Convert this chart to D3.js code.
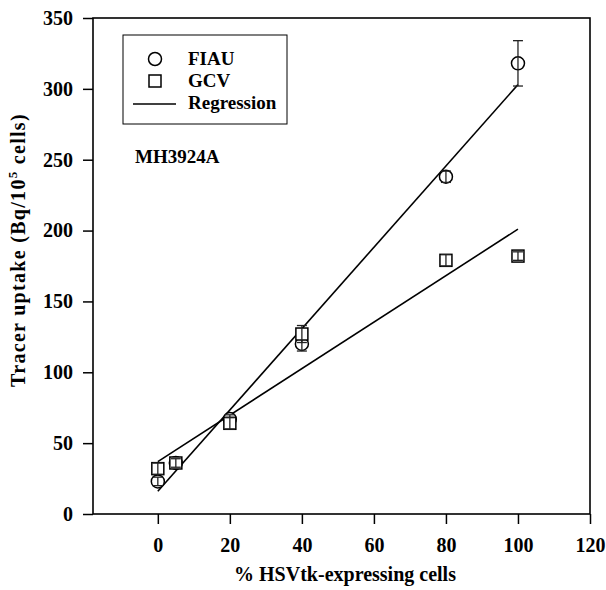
<!DOCTYPE html>
<html>
<head>
<meta charset="utf-8">
<script src="https://cdn.jsdelivr.net/npm/d3@7"></script>
<style>
  body { margin: 0; background: #fff; }
  text { font-family: "Liberation Serif", "Times New Roman", serif; font-weight: bold; }
</style>
</head>
<body>
<script>
// data
var xValues = [0, 5, 20, 40, 80, 100];
var fiau = [23, 36, 67, 120, 238, 318];
var fiauErr = [3, 3, 3, 5, 4, 16];
var gcv = [32, 36, 64, 127, 179, 182];
var gcvErr = [4, 3, 4, 6, 4, 3];
// regression end points (x, y)
var fiauFit = [[0, 16], [100, 303]];
var gcvFit = [[0, 37], [100, 201]];
var xTicks = [0, 20, 40, 60, 80, 100, 120];
var yTicks = [0, 50, 100, 150, 200, 250, 300, 350];

var margin = {top: 18, right: 16, bottom: 76, left: 93},
    width = 606 - margin.left - margin.right,
    height = 590 - margin.top - margin.bottom;

var svg = d3.select("body").append("svg")
    .attr("width", 606)
    .attr("height", 590)
    .append("g")
    .attr("transform", "translate(" + margin.left + "," + margin.top + ")");

var xScale = d3.scaleLinear().domain([-18, 120]).range([0, width]);
var yScale = d3.scaleLinear().domain([0, 350]).range([height, 0]);

// axes, outward ticks
var xAxis = d3.axisBottom(xScale).tickValues(xTicks).tickSize(10).tickPadding(14);
var yAxis = d3.axisLeft(yScale).tickValues(yTicks).tickSize(10).tickPadding(10);

var gx = svg.append("g")
    .attr("transform", "translate(0," + height + ")")
    .call(xAxis);
var gy = svg.append("g").call(yAxis);

[gx, gy].forEach(function(g) {
    g.select(".domain").remove();
    g.selectAll("line").attr("stroke", "#000").attr("stroke-width", 1.5);
    g.selectAll("text").attr("font-size", "20px").attr("fill", "#000");
});

// frame
svg.append("rect")
    .attr("x", 0).attr("y", 0)
    .attr("width", width).attr("height", height)
    .attr("fill", "none")
    .attr("stroke", "#000")
    .attr("stroke-width", 1.6);

// regression lines
var line = d3.line()
    .x(function(d) { return xScale(d[0]); })
    .y(function(d) { return yScale(d[1]); });

[fiauFit, gcvFit].forEach(function(fit) {
    svg.append("path")
        .attr("d", line(fit))
        .attr("fill", "none")
        .attr("stroke", "#000")
        .attr("stroke-width", 1.6);
});

// markers with error bars
function drawSeries(vals, errs, shape) {
    var g = svg.append("g");
    vals.forEach(function(v, i) {
        var cx = xScale(xValues[i]), cy = yScale(v);
        if (shape === "circle") {
            g.append("circle")
                .attr("cx", cx).attr("cy", cy).attr("r", 6.5)
                .attr("fill", "#fff").attr("stroke", "#000").attr("stroke-width", 1.5);
        } else {
            g.append("rect")
                .attr("x", cx - 6).attr("y", cy - 6)
                .attr("width", 12).attr("height", 12)
                .attr("fill", "#fff").attr("stroke", "#000").attr("stroke-width", 1.5);
        }
        var top = yScale(v + errs[i]), bot = yScale(v - errs[i]);
        g.append("line")
            .attr("x1", cx).attr("x2", cx).attr("y1", top).attr("y2", bot)
            .attr("stroke", "#222").attr("stroke-width", 1.3);
        [top, bot].forEach(function(yy) {
            g.append("line")
                .attr("x1", cx - 5).attr("x2", cx + 5).attr("y1", yy).attr("y2", yy)
                .attr("stroke", "#222").attr("stroke-width", 1.3);
        });
    });
}
drawSeries(fiau, fiauErr, "circle");
drawSeries(gcv, gcvErr, "square");

// legend
var lg = svg.append("g").attr("transform", "translate(30,17)");
lg.append("rect")
    .attr("width", 164).attr("height", 89)
    .attr("fill", "#fff").attr("stroke", "#000").attr("stroke-width", 1);
lg.append("circle").attr("cx", 32).attr("cy", 24).attr("r", 6.5)
    .attr("fill", "none").attr("stroke", "#000").attr("stroke-width", 1.5);
lg.append("rect").attr("x", 26).attr("y", 40).attr("width", 12).attr("height", 12)
    .attr("fill", "none").attr("stroke", "#000").attr("stroke-width", 1.5);
lg.append("line").attr("x1", 10).attr("x2", 53).attr("y1", 69).attr("y2", 69)
    .attr("stroke", "#000").attr("stroke-width", 1.5);
var labels = ["FIAU", "GCV", "Regression"];
labels.forEach(function(t, i) {
    lg.append("text")
        .attr("x", 65).attr("y", 30 + i * 22)
        .attr("font-size", "19px")
        .text(t);
});

// cell line label
svg.append("text")
    .attr("x", 42).attr("y", 145)
    .attr("font-size", "19px")
    .text("MH3924A");

// axis titles
svg.append("text")
    .attr("x", 345 - margin.left).attr("y", 581 - margin.top)
    .attr("text-anchor", "middle")
    .attr("font-size", "20px")
    .text("% HSVtk-expressing cells");

var yt = svg.append("text")
    .attr("transform", "translate(" + (25 - margin.left) + "," + (250 - margin.top) + ") rotate(-90)")
    .attr("text-anchor", "middle")
    .attr("font-size", "20px")
    .attr("letter-spacing", "1.3px");
yt.append("tspan").text("Tracer uptake (Bq/10");
yt.append("tspan").attr("font-size", "13px").attr("dy", "-8").text("5");
yt.append("tspan").attr("dy", "8").text(" cells)");
</script>
</body>
</html>
